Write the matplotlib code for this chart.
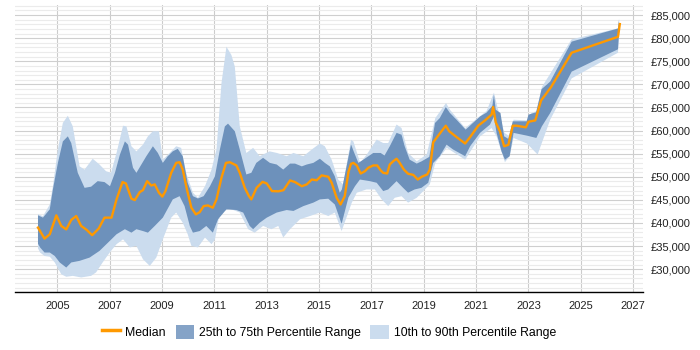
import numpy as np
import matplotlib
matplotlib.use("Agg")
import matplotlib.pyplot as plt
from matplotlib.ticker import MultipleLocator, FuncFormatter
from matplotlib.lines import Line2D
from matplotlib.patches import Patch

plt.rcParams['font.family'] = ['Liberation Sans', 'DejaVu Sans']

# median line
yr_med = [2004.26, 2004.51, 2004.71, 2004.96, 2005.15, 2005.34, 2005.53, 2005.72, 2005.91, 2006.12,
          2006.33, 2006.58, 2006.80, 2007.07, 2007.26, 2007.49, 2007.62, 2007.83, 2007.96, 2008.15,
          2008.27, 2008.43, 2008.59, 2008.72, 2008.88, 2009.01, 2009.13, 2009.35, 2009.54, 2009.67,
          2009.79, 2009.95, 2010.12, 2010.29, 2010.44, 2010.59, 2010.75, 2010.94, 2011.08, 2011.27,
          2011.44, 2011.59, 2011.84, 2011.97, 2012.16, 2012.32, 2012.41, 2012.61, 2012.84, 2013.00,
          2013.20, 2013.45, 2013.64, 2013.89, 2014.08, 2014.34, 2014.53, 2014.72, 2014.91, 2015.10,
          2015.35, 2015.48, 2015.67, 2015.82, 2015.98, 2016.12, 2016.22, 2016.31, 2016.44, 2016.59,
          2016.75, 2016.88, 2017.07, 2017.22, 2017.35, 2017.45, 2017.60, 2017.70, 2017.83, 2017.96,
          2018.08, 2018.24, 2018.40, 2018.60, 2018.77, 2018.92, 2019.13, 2019.23, 2019.36, 2019.61,
          2019.84, 2019.97, 2020.25, 2020.58, 2020.79, 2021.08, 2021.34, 2021.59, 2021.65, 2021.75,
          2021.91, 2022.07, 2022.23, 2022.40, 2022.55, 2022.90, 2023.00, 2023.26, 2023.48, 2023.86,
          2024.65, 2026.42, 2026.49]
median = [39000, 36600, 37550, 41650, 39350, 38600, 40650, 41500, 39350, 38500,
          37350, 38800, 41150, 41150, 45100, 48850, 48550, 45250, 44950, 46700,
          47100, 49050, 48100, 48350, 46550, 45700, 46900, 50850, 53000, 53150,
          51550, 47250, 43300, 41850, 42350, 43650, 43800, 43300, 45100, 49800,
          53000, 53150, 52450, 50850, 47600, 45800, 45100, 47600, 48900, 48550,
          46900, 46850, 47100, 49200, 48850, 47950, 48350, 49400, 49250, 50300,
          50000, 48700, 45450, 44000, 45800, 51000, 52800, 53000, 52450, 50700,
          51200, 51950, 52450, 52450, 51400, 50850, 50700, 52650, 53350, 53900,
          53000, 51550, 50650, 50400, 49400, 50000, 50500, 51550, 57450, 59350,
          61050, 59850, 58600, 57200, 58750, 61050, 62200, 63450, 65100, 61750,
          59850, 56600, 56900, 61050, 61050, 60700, 61900, 62200, 66500, 69400,
          76850, 80300, 83050]

# 75th percentile
yr_q75 = [2004.26, 2004.45, 2004.71, 2004.83, 2005.02, 2005.21, 2005.40, 2005.53, 2005.78, 2006.04,
          2006.29, 2006.54, 2006.80, 2007.01, 2007.20, 2007.39, 2007.58, 2007.70, 2007.89, 2008.02,
          2008.21, 2008.40, 2008.65, 2008.84, 2009.03, 2009.22, 2009.41, 2009.60, 2009.79, 2009.98,
          2010.18, 2010.37, 2010.59, 2010.83, 2011.02, 2011.21, 2011.40, 2011.52, 2011.78, 2011.97,
          2012.22, 2012.41, 2012.60, 2012.86, 2013.12, 2013.38, 2013.63, 2013.89, 2014.08, 2014.34,
          2014.53, 2014.78, 2015.03, 2015.22, 2015.41, 2015.60, 2015.79, 2015.87, 2016.22, 2016.32,
          2016.50, 2016.69, 2017.07, 2017.35, 2017.50, 2017.70, 2017.96, 2018.15, 2018.27, 2018.46,
          2018.73, 2018.92, 2019.21, 2019.43, 2019.61, 2019.84, 2020.00, 2020.25, 2020.60, 2021.15,
          2021.40, 2021.62, 2021.68, 2021.75, 2021.93, 2022.07, 2022.23, 2022.40, 2022.93, 2023.00,
          2023.29, 2023.50, 2023.83, 2024.65, 2026.42, 2026.46]
q75 = [41650, 41150, 42950, 47250, 53000, 57650, 58750, 57300, 50850, 47600,
       47850, 49050, 48850, 47950, 50850, 54800, 57650, 56950, 51950, 50850,
       52650, 54450, 56600, 55150, 53000, 54450, 55500, 56050, 54450, 48700,
       45800, 45300, 45800, 47950, 50100, 55900, 60900, 61500, 59850, 55900,
       50500, 50850, 53000, 54100, 53000, 52650, 51550, 52850, 52850, 52250,
       52650, 53000, 53900, 53000, 52250, 50100, 46550, 47250, 57000, 55500,
       53000, 53700, 55150, 55150, 54600, 56600, 59500, 59100, 56600, 53700,
       52850, 53350, 54300, 61650, 62700, 65100, 63800, 62350, 60200, 63050,
       63900, 65350, 67750, 64500, 63800, 58750, 58200, 62000, 62000, 63450,
       63950, 68950, 70600, 79250, 82100, 84000]

# 25th percentile
yr_q25 = [2004.26, 2004.34, 2004.51, 2004.71, 2004.90, 2005.09, 2005.34, 2005.53, 2005.85, 2006.23,
          2006.61, 2007.00, 2007.26, 2007.58, 2007.83, 2008.02, 2008.27, 2008.46, 2008.72, 2009.03,
          2009.41, 2009.67, 2009.86, 2010.06, 2010.18, 2010.44, 2010.69, 2010.94, 2011.14, 2011.46,
          2011.84, 2012.10, 2012.35, 2012.48, 2012.73, 2013.00, 2013.38, 2013.76, 2014.02, 2014.40,
          2014.78, 2015.03, 2015.35, 2015.60, 2015.86, 2016.12, 2016.37, 2016.56, 2016.94, 2017.20,
          2017.45, 2017.64, 2017.96, 2018.21, 2018.40, 2018.65, 2018.91, 2019.17, 2019.36, 2019.61,
          2019.87, 2020.12, 2020.58, 2020.77, 2021.15, 2021.53, 2021.68, 2021.78, 2021.97, 2022.10,
          2022.28, 2022.43, 2022.94, 2023.30, 2023.51, 2023.83, 2024.65, 2026.42, 2026.46]
q25 = [35500, 34700, 33600, 33600, 32850, 31450, 30350, 31450, 31800, 32500,
       33950, 36100, 37550, 38650, 37900, 38650, 38250, 37900, 39350, 41150,
       45100, 45800, 43650, 39350, 37900, 38250, 39350, 37900, 40800, 42950,
       42800, 42250, 39350, 38650, 40050, 41150, 42250, 42800, 42600, 43650,
       44400, 45100, 45250, 44000, 39800, 45500, 47950, 49400, 49050, 48700,
       46900, 47250, 49050, 47600, 46550, 47250, 47600, 48700, 53000, 54450,
       56950, 55900, 54450, 56600, 59500, 61300, 63050, 59500, 55500, 53700,
       54450, 59500, 58900, 58400, 60900, 63800, 72750, 77600, 81050]

# 90th percentile
yr_q90 = [2004.26, 2004.45, 2004.71, 2004.83, 2005.02, 2005.21, 2005.40, 2005.59, 2005.85, 2006.04,
          2006.35, 2006.61, 2006.86, 2007.05, 2007.26, 2007.51, 2007.64, 2007.83, 2008.02, 2008.27,
          2008.46, 2008.65, 2008.88, 2009.03, 2009.29, 2009.54, 2009.73, 2009.92, 2010.18, 2010.37,
          2010.64, 2010.89, 2011.08, 2011.27, 2011.46, 2011.65, 2011.78, 2011.97, 2012.22, 2012.48,
          2012.73, 2013.11, 2013.39, 2013.76, 2014.02, 2014.40, 2014.72, 2015.03, 2015.22, 2015.48,
          2015.73, 2015.92, 2016.22, 2016.31, 2016.57, 2016.82, 2017.20, 2017.45, 2017.64, 2017.96,
          2018.15, 2018.40, 2018.73, 2019.11, 2019.44, 2019.85, 2020.00, 2020.58, 2021.40, 2021.68,
          2021.82, 2022.08, 2022.28, 2022.43, 2022.94, 2023.12, 2023.32, 2023.51, 2024.65, 2026.42,
          2026.46]
q90 = [41900, 41450, 44000, 47950, 55900, 61650, 63200, 60900, 52250, 51550,
       53900, 52650, 51200, 50850, 55150, 61050, 60900, 56600, 55500, 56950,
       58750, 59850, 59850, 53700, 55150, 56600, 56250, 50850, 46550, 45450,
       47950, 51550, 55900, 70250, 78150, 76350, 73850, 60900, 55150, 56250,
       54450, 55500, 55150, 54450, 55150, 54450, 55900, 57200, 56600, 53700,
       49400, 48350, 58000, 57650, 53000, 54800, 58050, 57300, 57300, 61300,
       60550, 55150, 53350, 54800, 62700, 65950, 64500, 60550, 64250, 68200,
       64950, 59500, 58750, 62350, 62200, 63800, 64250, 69400, 79750, 82100,
       84200]

# 10th percentile
yr_q10 = [2004.26, 2004.34, 2004.51, 2004.71, 2004.90, 2005.15, 2005.34, 2005.59, 2005.91, 2006.29,
          2006.48, 2006.73, 2007.00, 2007.26, 2007.51, 2007.77, 2008.02, 2008.27, 2008.53, 2008.78,
          2009.03, 2009.35, 2009.54, 2009.79, 2009.98, 2010.12, 2010.37, 2010.64, 2010.89, 2011.02,
          2011.21, 2011.59, 2011.97, 2012.29, 2012.54, 2012.86, 2013.18, 2013.44, 2013.63, 2013.89,
          2014.27, 2014.65, 2015.03, 2015.35, 2015.60, 2015.86, 2016.25, 2016.44, 2016.81, 2017.13,
          2017.39, 2017.64, 2017.89, 2018.15, 2018.40, 2018.73, 2019.04, 2019.23, 2019.44, 2019.88,
          2020.58, 2021.15, 2021.59, 2021.78, 2022.10, 2022.28, 2022.43, 2022.94, 2023.35, 2023.83,
          2024.65, 2026.42, 2026.46]
q10 = [34500, 33600, 32850, 32700, 31450, 28900, 28350, 28550, 28200, 28550,
       29300, 31450, 33600, 35400, 36450, 34700, 35050, 32150, 30700, 32500,
       36450, 41150, 42250, 40050, 37550, 35050, 34700, 36850, 35400, 36450,
       42250, 43100, 42250, 38650, 37900, 39350, 38650, 39350, 36850, 38650,
       40800, 41500, 42250, 41500, 42250, 38250, 44400, 46550, 47250, 47250,
       45100, 43650, 45450, 45800, 44400, 45450, 47250, 48350, 53000, 56250,
       53700, 58750, 60550, 58750, 53150, 54450, 58400, 57200, 54800, 62350,
       71300, 76850, 81050]

year_ticks = list(range(2005, 2028, 2))

MEDIAN_COL = '#ff9900'
IQR_COL = '#6d91bb'
OUTER_COL = '#cbdcee'

fig = plt.figure(figsize=(7, 3.5), dpi=100)
ax = fig.add_axes([0.021, 0.165, 0.897, 0.821])

# outer band first, then inner band, then the median on top
ax.fill(np.r_[yr_q90, yr_q10[::-1]], np.r_[q90, q10[::-1]], color=OUTER_COL, lw=0, zorder=2)
ax.fill(np.r_[yr_q75, yr_q25[::-1]], np.r_[q75, q25[::-1]], color=IQR_COL, lw=0, zorder=3)
ax.plot(yr_med, median, color=MEDIAN_COL, lw=1.7, zorder=4)

ax.set_xlim(2003.37, 2027.36)
ax.set_ylim(25000, 87200)

ax.set_xticks(year_ticks)
ax.yaxis.set_major_locator(MultipleLocator(5000))
ax.yaxis.set_minor_locator(MultipleLocator(1000))
ax.yaxis.set_major_formatter(FuncFormatter(lambda v, p: '£{:,.0f}'.format(v) if v >= 30000 else ''))
ax.yaxis.tick_right()

ax.grid(axis='y', which='major', color='#cfcfcf', lw=0.8, zorder=0)
ax.grid(axis='y', which='minor', color='#ebebeb', lw=0.8, zorder=0)
ax.grid(axis='x', which='major', color='#cccccc', lw=0.8, zorder=0)

ax.tick_params(axis='both', which='both', length=0, labelsize=8, colors='#222222')
ax.tick_params(axis='x', pad=6)
ax.tick_params(axis='y', pad=6)

for s in ['top', 'left', 'right']:
    ax.spines[s].set_visible(False)
ax.spines['bottom'].set_color('black')
ax.spines['bottom'].set_linewidth(1.0)

handles = [Line2D([0], [0], color=MEDIAN_COL, lw=2.5),
           Patch(facecolor='#85a3c7', edgecolor='none'),
           Patch(facecolor=OUTER_COL, edgecolor='none')]
labels = ['Median', '25th to 75th Percentile Range', '10th to 90th Percentile Range']
fig.legend(handles, labels, loc='lower center', bbox_to_anchor=(0.47, 0.0), ncol=3,
           frameon=False, fontsize=8.8, handlelength=1.5, handleheight=1.4, columnspacing=0.8,
           handletextpad=0.4)

fig.savefig('out.png', dpi=100)
